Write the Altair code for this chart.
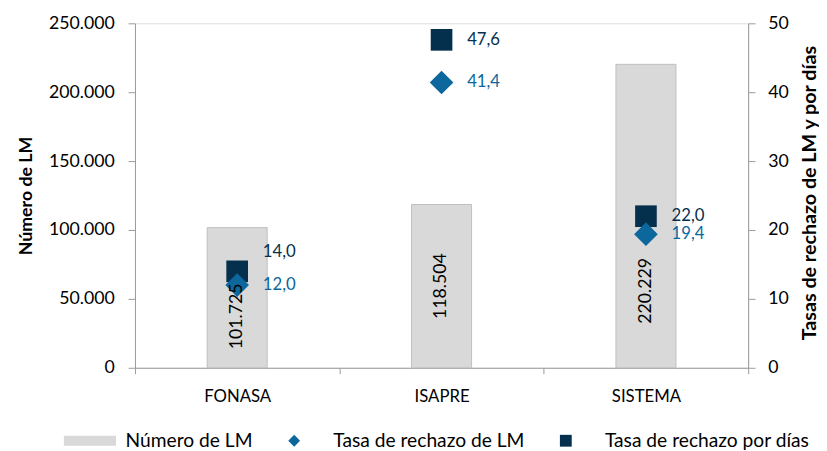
import altair as alt
import pandas as pd

categorias = ["FONASA", "ISAPRE", "SISTEMA"]
numero_lm = [101725, 118504, 220229]
tasa_lm = [12.0, 41.4, 19.4]
tasa_dias = [14.0, 47.6, 22.0]

serie_bar = "Número de LM"
serie_lm = "Tasa de rechazo de LM"
serie_dias = "Tasa de rechazo por días"

df = pd.DataFrame({"cat": categorias, "n": numero_lm, "lm": tasa_lm, "dias": tasa_dias})

FONT = "Lato"
BAR = "#d9d9d9"
NAVY = "#05304d"
BLUE = "#0b679c"
AXIS = "#9a9a9a"

color_scale = alt.Scale(domain=[serie_bar, serie_lm, serie_dias], range=[BAR, BLUE, NAVY])
shape_scale = alt.Scale(
    domain=[serie_bar, serie_lm, serie_dias],
    range=["M-3.83,-0.83L5.0,-0.83L5.0,0.83L-3.83,0.83Z", "diamond", "square"],
)
legend = alt.Legend(
    title=None, orient="none", legendX=-59, legendY=414, direction="horizontal",
    symbolSize=144, labelFont=FONT, labelFontSize=19.5, labelColor="#000000",
    labelOffset=30, columnPadding=32, symbolStrokeWidth=0, padding=0, labelLimit=0,
)

x_enc = alt.X(
    "cat:N", sort=categorias, title=None,
    scale=alt.Scale(paddingInner=0, paddingOuter=0),
    axis=alt.Axis(labelAngle=0, tickBand="extent", tickSize=6, labelPadding=15,
                  labelFont=FONT, labelFontSize=17, labelColor="#000000",
                  domainColor=AXIS, tickColor=AXIS),
)

base = alt.Chart(df)

bars = base.transform_calculate(serie=f"'{serie_bar}'").mark_bar(
    width=61, stroke="#bfbfbf", strokeWidth=1
).encode(
    x=x_enc,
    y=alt.Y("n:Q", scale=alt.Scale(domain=[0, 250000]),
            axis=alt.Axis(title="Número de LM", values=[0, 50000, 100000, 150000, 200000, 250000],
                          labelExpr="replace(format(datum.value, ',d'), ',', '.')",
                          tickSize=7, labelPadding=14, grid=False,
                          labelFont=FONT, labelFontSize=18, labelColor="#000000",
                          titleFont=FONT, titleFontSize=18, titleFontWeight="bold", titleColor="#000000",
                          titleX=-110, titleY=175, titleBaseline="middle", titleAngle=270,
                          domainColor=AXIS, tickColor=AXIS)),
    color=alt.Color("serie:N", scale=color_scale, legend=legend),
)

left = bars

rate_axis = alt.Axis(title="Tasas de rechazo de LM y por días", values=[0, 10, 20, 30, 40, 50],
                     tickSize=7, labelPadding=13, grid=False, orient="right",
                     labelFont=FONT, labelFontSize=18, labelColor="#000000",
                     titleFont=FONT, titleFontSize=20, titleFontWeight="bold", titleColor="#000000",
                     titleX=62, titleY=172, titleBaseline="middle", titleAngle=270,
                     domainColor=AXIS, tickColor=AXIS)
rate_scale = alt.Scale(domain=[0, 50])

squares = base.transform_calculate(serie=f"'{serie_dias}'").mark_point(
    filled=True, size=484, opacity=1
).encode(
    x=alt.X("cat:N", sort=categorias),
    y=alt.Y("dias:Q", scale=rate_scale, axis=rate_axis),
    color=alt.Color("serie:N", scale=color_scale, legend=legend),
    shape=alt.Shape("serie:N", scale=shape_scale, legend=legend),
)

diamonds = base.transform_calculate(serie=f"'{serie_lm}'").mark_point(
    filled=True, size=576, opacity=1
).encode(
    x=alt.X("cat:N", sort=categorias),
    y=alt.Y("lm:Q", scale=rate_scale, axis=rate_axis),
    color=alt.Color("serie:N", scale=color_scale, legend=legend),
    shape=alt.Shape("serie:N", scale=shape_scale, legend=legend),
)

label_props = dict(align="left", baseline="middle", dx=26, font=FONT, fontSize=17)

sq_text_main = base.transform_filter("datum.cat != 'FONASA'").transform_calculate(
    t="replace(format(datum.dias, '.1f'), '.', ',')"
).mark_text(color=NAVY, **label_props).encode(
    x=alt.X("cat:N", sort=categorias), y=alt.Y("dias:Q", scale=rate_scale, axis=rate_axis), text="t:N"
)
sq_text_fonasa = base.transform_filter("datum.cat == 'FONASA'").transform_calculate(
    t="replace(format(datum.dias, '.1f'), '.', ',')"
).mark_text(color=NAVY, dy=-20, **label_props).encode(
    x=alt.X("cat:N", sort=categorias), y=alt.Y("dias:Q", scale=rate_scale, axis=rate_axis), text="t:N"
)
di_text = base.transform_calculate(
    t="replace(format(datum.lm, '.1f'), '.', ',')"
).mark_text(color=BLUE, **label_props).encode(
    x=alt.X("cat:N", sort=categorias), y=alt.Y("lm:Q", scale=rate_scale, axis=rate_axis), text="t:N"
)

right = alt.layer(squares, diamonds, sq_text_main, sq_text_fonasa, di_text)

shifts = {"FONASA": 19, "ISAPRE": 0, "SISTEMA": 76}
bar_label_layers = []
for cat, s in shifts.items():
    bar_label_layers.append(
        base.transform_filter(f"datum.cat == '{cat}'").transform_calculate(
            half="datum.n / 2",
            t="replace(format(datum.n, ',d'), ',', '.')",
        ).mark_text(angle=270, align="center", baseline="middle", dx=-s,
                    font=FONT, fontSize=18, color="#000000").encode(
            x=alt.X("cat:N", sort=categorias),
            y=alt.Y("half:Q", scale=alt.Scale(domain=[0, 250000]), axis=None),
            text="t:N",
        )
    )
bar_labels = alt.layer(*bar_label_layers)

chart = alt.layer(left, right, bar_labels).resolve_scale(y="independent").properties(
    width=623, height=350,
    padding={"left": 129, "top": 12, "right": 72, "bottom": 81},
    autosize=alt.AutoSizeParams(type="none"),
).configure_view(stroke=None).configure(background="white")

chart.save("out.html", embed_options={"renderer": "svg", "actions": False})
